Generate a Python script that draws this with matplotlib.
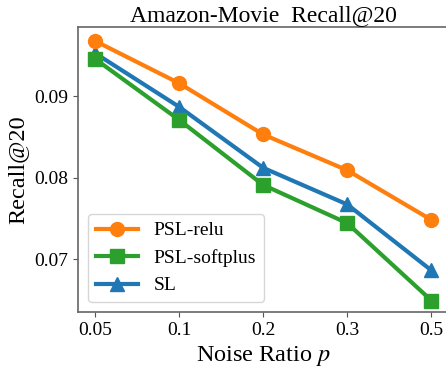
import matplotlib
matplotlib.use('Agg')
import matplotlib.pyplot as plt

noise = ['0.05', '0.1', '0.2', '0.3', '0.5']
psl_relu = [0.0968, 0.0916, 0.0853, 0.0809, 0.0748]
psl_softplus = [0.0946, 0.0871, 0.0791, 0.0744, 0.0649]
sl = [0.0953, 0.0887, 0.0812, 0.0767, 0.0686]

plt.rcParams['font.family'] = ['Liberation Serif', 'DejaVu Serif']
plt.rcParams['mathtext.fontset'] = 'stix'

fig = plt.figure(figsize=(4.46, 3.7), dpi=100)
ax = fig.add_axes([0.175, 0.157, 0.83, 0.77])

x = list(range(len(noise)))
h_sl, = ax.plot(x, sl, color='#1f77b4', marker='^', lw=3, ms=10, label='SL')
h_sp, = ax.plot(x, psl_softplus, color='#2ca02c', marker='s', lw=3, ms=10, label='PSL-softplus')
h_relu, = ax.plot(x, psl_relu, color='#ff7f0e', marker='o', lw=3, ms=10, label='PSL-relu')

ax.set_xticks(x)
ax.set_xticklabels(noise)
ax.set_yticks([0.07, 0.08, 0.09])
ax.set_xlim(-0.2, 4.2)
ax.set_ylim(0.0635, 0.0985)
ax.tick_params(labelsize=14, color='#555555')
for s in ax.spines.values():
    s.set_color('#666666')
    s.set_linewidth(1.2)

ax.set_xlabel('Noise Ratio $p$', fontsize=17.5)
ax.set_ylabel('Recall@20', fontsize=17.5)
ax.set_title('Amazon-Movie  Recall@20', fontsize=17, pad=4)
ax.legend(handles=[h_relu, h_sp, h_sl], loc='lower left', fontsize=14, handlelength=2.2)

fig.savefig('out.png', dpi=100)
